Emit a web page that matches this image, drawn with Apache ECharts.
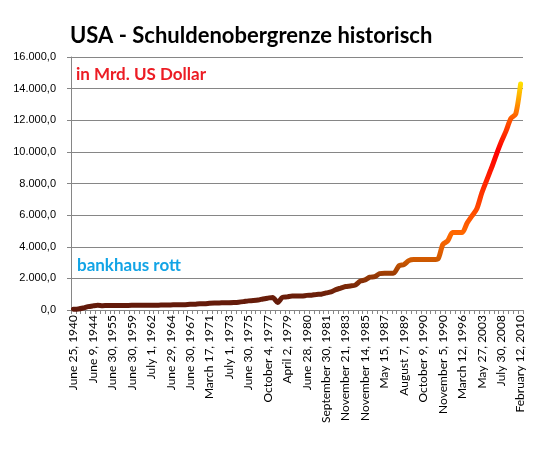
<!DOCTYPE html>
<html>
<head>
<meta charset="utf-8">
<script src="https://cdn.jsdelivr.net/npm/echarts@6/dist/echarts.min.js"></script>
<style>
html,body{margin:0;padding:0;background:#fff;}
#chart{width:549px;height:468px;}
</style>
</head>
<body>
<div id="chart"></div>
<script>
const titleText = 'USA - Schuldenobergrenze historisch';
const unitText = 'in Mrd. US Dollar';
const sourceText = 'bankhaus rott';

const dates = [
  'June 25, 1940','February 19, 1941','March 28, 1942','April 11, 1943',
  'June 9, 1944','April 3, 1945','June 26, 1946','August 28, 1954',
  'June 30, 1955','July 9, 1956','February 26, 1958','September 2, 1958',
  'June 30, 1959','June 30, 1960','June 30, 1961','March 13, 1962',
  'July 1, 1962','May 29, 1963','August 27, 1963','November 26, 1963',
  'June 29, 1964','June 24, 1965','July 1, 1966','March 2, 1967',
  'June 30, 1967','April 7, 1969','June 30, 1970','December 31, 1970',
  'March 17, 1971','March 15, 1972','July 1, 1972','October 27, 1972',
  'July 1, 1973','December 3, 1973','June 30, 1974','February 19, 1975',
  'June 30, 1975','November 14, 1975','March 15, 1976','April 1, 1977',
  'October 4, 1977','August 3, 1978','October 1, 1978','October 2, 1978',
  'April 2, 1979','September 29, 1979','May 30, 1980','June 6, 1980',
  'June 28, 1980','December 19, 1980','February 7, 1981','June 30, 1981',
  'September 30, 1981','June 28, 1982','September 30, 1982','May 26, 1983',
  'November 21, 1983','May 25, 1984','July 6, 1984','October 13, 1984',
  'November 14, 1985','December 12, 1985','August 21, 1986','October 21, 1986',
  'May 15, 1987','July 30, 1987','August 10, 1987','September 29, 1987',
  'August 7, 1989','November 8, 1989','August 9, 1990','October 2, 1990',
  'October 9, 1990','October 19, 1990','October 25, 1990','October 28, 1990',
  'November 5, 1990','April 6, 1993','August 10, 1993','February 8, 1996',
  'March 12, 1996','March 29, 1996','August 5, 1997','June 28, 2002',
  'May 27, 2003','November 19, 2004','March 20, 2006','September 29, 2007',
  'July 30, 2008','October 3, 2008','February 17, 2009','December 28, 2009',
  'February 12, 2010'
];

const debtLimit = [
  49, 65, 125, 210,
  260, 300, 275, 281,
  281, 278, 280, 288,
  295, 293, 298, 300,
  308, 307, 309, 315,
  324, 328, 330, 336,
  358, 365, 395, 395,
  430, 450, 450, 465,
  465, 475.7, 495, 531,
  577, 595, 627, 700,
  752, 798, 480, 798,
  830, 879, 879, 879,
  925, 935.1, 985, 999.8,
  1079.8, 1143.1, 1290.2, 1389,
  1490, 1520, 1573, 1823.8,
  1903.8, 2078.7, 2111, 2300,
  2320, 2320, 2352, 2800,
  2870, 3122.7, 3195, 3195,
  3195, 3195, 3195, 3230,
  4145, 4370, 4900, 4900,
  4900, 5500, 5950, 6400,
  7384, 8184, 8965, 9815,
  10615, 11315, 12104, 12394,
  14294
];

function deFormat(v) {
  const s = Math.round(v).toString().replace(/\B(?=(\d{3})+(?!\d))/g, '.');
  return s + ',0';
}

const chart = echarts.init(document.getElementById('chart'), null, {renderer: 'canvas'});
const gridColor = '#868686';

chart.setOption({
  backgroundColor: '#ffffff',
  animation: false,
  title: [
    {
      text: titleText, left: 65, top: 20,
      textStyle: {fontFamily: 'Lato', fontWeight: 'bold', fontSize: 22, color: '#000'}
    },
    {
      text: unitText, left: 71, top: 61,
      textStyle: {fontFamily: 'Lato', fontWeight: 'bold', fontSize: 17, color: '#ec1c24'}
    },
    {
      text: sourceText, left: 72, top: 252,
      textStyle: {fontFamily: 'Lato', fontWeight: 'bold', fontSize: 17, color: '#12a4e6'}
    }
  ],
  grid: {left: 71, right: 26, top: 57, height: 253, containLabel: false},
  xAxis: {
    type: 'category',
    data: dates,
    boundaryGap: true,
    axisLine: {show: true, lineStyle: {color: gridColor, width: 1}},
    axisTick: {show: true, interval: 0, length: 4, lineStyle: {color: gridColor}},
    axisLabel: {
      interval: 3, rotate: 90, margin: 5,
      fontFamily: 'Lato', fontSize: 12, color: '#000'
    },
    splitLine: {show: false}
  },
  yAxis: {
    type: 'value',
    min: 0, max: 16000, interval: 2000,
    axisLine: {show: true, lineStyle: {color: gridColor, width: 1}},
    axisTick: {show: true, length: 4, lineStyle: {color: gridColor}},
    axisLabel: {
      formatter: deFormat, margin: 15,
      fontFamily: 'Liberation Sans', fontSize: 11, color: '#000'
    },
    splitLine: {show: true, lineStyle: {color: gridColor, width: 1}}
  },
  series: [{
    type: 'line',
    data: debtLimit,
    showSymbol: false,
    smooth: 0.25,
    lineStyle: {
      width: 5, cap: 'round', join: 'round',
      color: new echarts.graphic.LinearGradient(0, 1, 0, 0, [
        {offset: 0.00, color: '#5e170a'},
        {offset: 0.07, color: '#6a1e0a'},
        {offset: 0.11, color: '#7a2808'},
        {offset: 0.16, color: '#983a05'},
        {offset: 0.22, color: '#cc5800'},
        {offset: 0.29, color: '#f06200'},
        {offset: 0.34, color: '#ff6800'},
        {offset: 0.45, color: '#ff4800'},
        {offset: 0.62, color: '#ff1400'},
        {offset: 0.70, color: '#ff0000'},
        {offset: 0.84, color: '#ff5a00'},
        {offset: 0.92, color: '#ffa200'},
        {offset: 1.00, color: '#ffe600'}
      ])
    }
  }]
});
</script>
</body>
</html>
